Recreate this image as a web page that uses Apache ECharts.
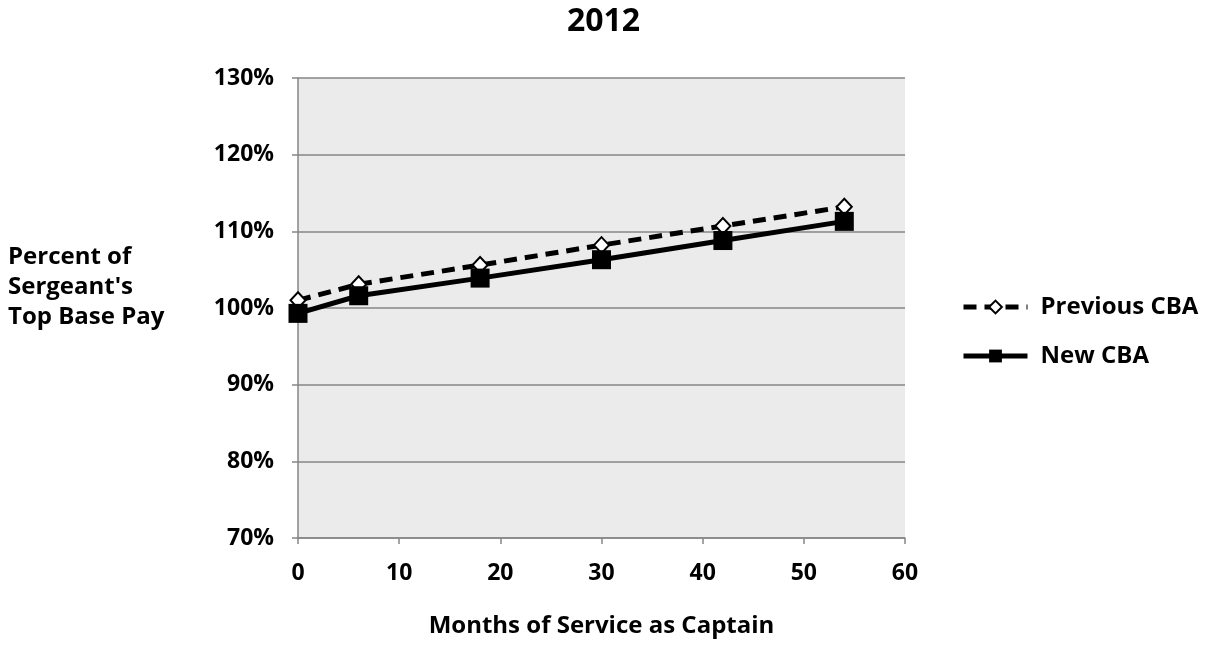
<!DOCTYPE html>
<html>
<head>
<meta charset="utf-8">
<script src="https://cdn.jsdelivr.net/npm/echarts@6/dist/echarts.min.js"></script>
<style>
  html, body { margin: 0; padding: 0; background: #fff; }
  #main { width: 1207px; height: 645px; }
</style>
</head>
<body>
<div id="main"></div>
<script>
// months of service, percent of sergeant's top base pay
var months = [0, 6, 18, 30, 42, 54];
var previousCBA = [101.0, 103.1, 105.6, 108.2, 110.7, 113.2];
var newCBA = [99.3, 101.6, 103.9, 106.3, 108.8, 111.3];

function pairs(xs, ys) {
  return xs.map(function (x, i) { return [x, ys[i]]; });
}

var font = '"Open Sans", "Liberation Sans", sans-serif';
var chart = echarts.init(document.getElementById('main'));

chart.setOption({
  animation: false,
  textStyle: { fontFamily: font },
  title: {
    text: '2012',
    left: 'center',
    top: 1,
    textStyle: { fontSize: 32, fontWeight: 'bold', color: '#000', fontFamily: font }
  },
  grid: { left: 298, right: 302, top: 78, bottom: 107, backgroundColor: '#ebebeb', show: true, borderWidth: 0 },
  xAxis: {
    type: 'value',
    min: 0,
    max: 60,
    interval: 10,
    name: 'Months of Service as Captain',
    nameLocation: 'middle',
    nameGap: 76,
    nameTextStyle: { fontSize: 24, fontWeight: 'bold', color: '#000' },
    axisLine: { lineStyle: { color: '#868686', width: 1.5 } },
    axisTick: { show: true, length: 6, lineStyle: { color: '#868686', width: 1.5 } },
    axisLabel: { fontSize: 23, fontWeight: 'bold', color: '#000', margin: 24 },
    splitLine: { show: false }
  },
  yAxis: {
    type: 'value',
    min: 70,
    max: 130,
    interval: 10,
    axisLine: { show: true, lineStyle: { color: '#868686', width: 1.5 } },
    axisTick: { show: true, length: 6, lineStyle: { color: '#868686', width: 1.5 } },
    axisLabel: { fontSize: 23, fontWeight: 'bold', color: '#000', margin: 24, formatter: '{value}%' },
    splitLine: { lineStyle: { color: '#868686', width: 1.5 } }
  },
  legend: {
    orient: 'vertical',
    left: 956,
    top: 290,
    itemWidth: 64,
    itemHeight: 16,
    itemGap: 25,
    lineStyle: { width: 5 },
    textStyle: { fontSize: 24, fontWeight: 'bold', color: '#000', padding: [0, 0, 0, 8] },
    data: ['Previous CBA', 'New CBA']
  },
  graphic: [{
    type: 'text',
    left: 8,
    top: 242,
    style: {
      text: "Percent of\nSergeant's\nTop Base Pay",
      font: 'bold 24px ' + font,
      fill: '#000',
      lineHeight: 30
    }
  }],
  series: [
    {
      name: 'Previous CBA',
      type: 'line',
      data: pairs(months, previousCBA),
      symbol: 'diamond',
      symbolSize: [15, 16],
      lineStyle: { color: '#000', width: 5, type: [13, 8] },
      itemStyle: { color: '#fff', borderColor: '#000', borderWidth: 2 },
      z: 2
    },
    {
      name: 'New CBA',
      type: 'line',
      data: pairs(months, newCBA),
      symbol: 'rect',
      symbolSize: 19,
      lineStyle: { color: '#000', width: 5 },
      itemStyle: { color: '#000', borderColor: '#000', borderWidth: 0 },
      z: 3
    }
  ]
});
</script>
</body>
</html>
